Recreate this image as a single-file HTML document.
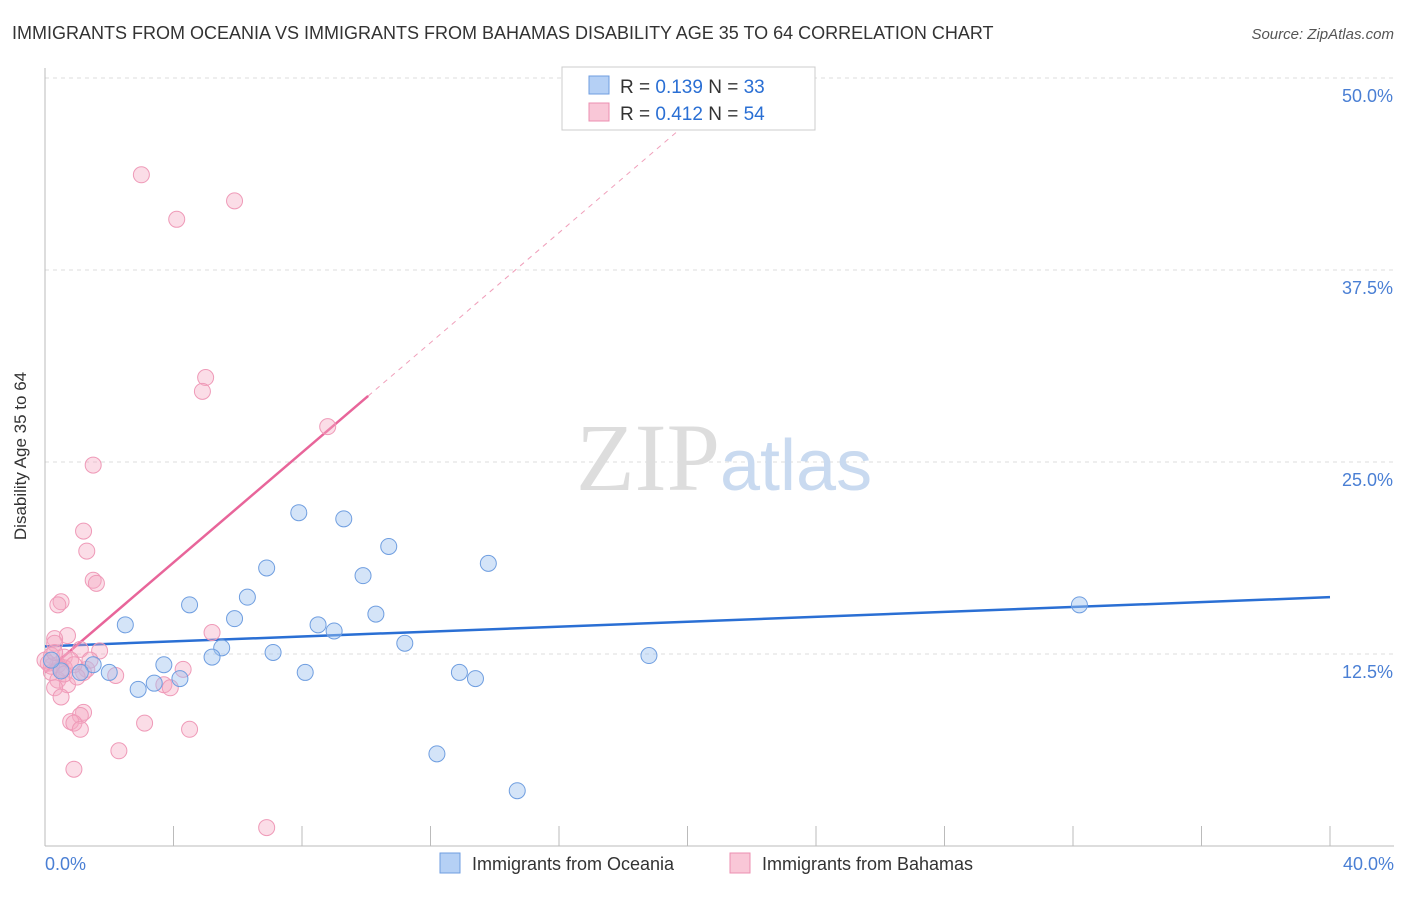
<!DOCTYPE html>
<html><head><meta charset="utf-8"><style>
body{margin:0;background:#fff;font-family:"Liberation Sans",sans-serif}
</style></head><body>
<svg width="1406" height="892" xmlns="http://www.w3.org/2000/svg" font-family="Liberation Sans, sans-serif">
<text x="12" y="39" font-size="18" fill="#333">IMMIGRANTS FROM OCEANIA VS IMMIGRANTS FROM BAHAMAS DISABILITY AGE 35 TO 64 CORRELATION CHART</text>
<text x="1394" y="39" font-size="15" fill="#555" font-style="italic" text-anchor="end">Source: ZipAtlas.com</text>
<g id="grid"></g>
<line x1="45" y1="68" x2="45" y2="846" stroke="#bbb"/>
<line x1="45" y1="846" x2="1394" y2="846" stroke="#bbb"/>
<text x="720" y="490" font-size="96" fill="#ddd" text-anchor="end" font-family="Liberation Serif, serif">ZIP</text>
<text x="720" y="490" font-size="72" fill="#c9daf0">atlas</text>
<text x="26" y="456" font-size="17" fill="#333" text-anchor="middle" transform="rotate(-90 26 456)">Disability Age 35 to 64</text>
<text x="45" y="870" font-size="18" fill="#4a7fd4">0.0%</text>
<text x="1394" y="870" font-size="18" fill="#4a7fd4" text-anchor="end">40.0%</text>
<g id="lines"></g>
<g id="pts"></g>
<g>
<rect x="562" y="67" width="253" height="63" fill="#fff" stroke="#ccc"/>
<rect x="589" y="76" width="20" height="18" fill="#b5d0f5" stroke="#6f9ee0"/>
<text x="620" y="93" font-size="19" fill="#333">R = <tspan fill="#2a6fd4">0.139</tspan>   N = <tspan fill="#2a6fd4">33</tspan></text>
<rect x="589" y="103" width="20" height="18" fill="#f9c7d7" stroke="#ec8fb0"/>
<text x="620" y="120" font-size="19" fill="#333">R = <tspan fill="#2a6fd4">0.412</tspan>   N = <tspan fill="#2a6fd4">54</tspan></text>
</g>
<g>
<rect x="440" y="853" width="20" height="20" fill="#b5d0f5" stroke="#6f9ee0"/>
<text x="472" y="870" font-size="18" fill="#333">Immigrants from Oceania</text>
<rect x="730" y="853" width="20" height="20" fill="#f9c7d7" stroke="#ec8fb0"/>
<text x="762" y="870" font-size="18" fill="#333">Immigrants from Bahamas</text>
</g>
</svg>
<script>
const yTicks=[12.5,25,37.5,50];
const yTickLabels=["12.5%","25.0%","37.5%","50.0%"];
const oceaniaX=[7.9,9.3,10.7,13.8,6.9,9.9,6.3,4.5,10.3,5.9,2.5,8.5,9.0,11.2,5.5,7.1,5.2,18.8,3.7,1.5,2.0,8.1,12.9,13.4,4.2,3.4,2.9,12.2,14.7,32.2,0.5,1.1,0.2];
const oceaniaY=[21.7,21.3,19.5,18.4,18.1,17.6,16.2,15.7,15.1,14.8,14.4,14.4,14.0,13.2,12.9,12.6,12.3,12.4,11.8,11.8,11.3,11.3,11.3,10.9,10.9,10.6,10.2,6.0,3.6,15.7,11.4,11.3,12.1];
const bahamasX=[3.0,4.1,5.9,5.0,4.9,8.8,1.5,1.2,1.3,1.5,1.6,0.5,0.4,5.2,0.7,0.3,0.3,1.7,1.1,0.2,0.6,0.8,0.1,0.4,0.6,1.3,1.2,2.2,4.3,3.7,3.9,0.2,0.4,0.7,0.3,0.5,1.2,1.1,0.8,0.9,1.1,3.1,4.5,2.3,0.9,6.9,0.9,1.4,0.5,0.2,0.6,1.0,0.0,0.3];
const bahamasY=[43.7,40.8,42.0,30.5,29.6,27.3,24.8,20.5,19.2,17.3,17.1,15.9,15.7,13.9,13.7,13.5,13.2,12.7,12.8,12.4,12.3,12.1,11.9,11.8,11.6,11.5,11.3,11.1,11.5,10.5,10.3,11.3,10.8,10.5,10.3,9.7,8.7,8.5,8.1,8.0,7.6,8.0,7.6,6.2,5.0,1.2,11.8,12.1,11.5,11.7,11.2,11.0,12.1,12.6];
const blueLine=[0,13.0,40,16.2];
const pinkLine=[0,11.3,10.06,29.3,21.6];
const NS="http://www.w3.org/2000/svg";
const xs=v=>45+v*32.125, ys=v=>846-v*15.36;
function mk(t,a,p){const e=document.createElementNS(NS,t);for(const k in a)e.setAttribute(k,a[k]);document.getElementById(p).appendChild(e);return e;}
yTicks.forEach((v,i)=>{
 const l=mk('line',{x1:45,x2:1394,y1:ys(v),y2:ys(v),stroke:'#ddd','stroke-dasharray':'4,4'},'grid');
 
 
 const t=mk('text',{x:1393,y:ys(v)+24,'font-size':18,fill:'#4a7fd4','text-anchor':'end'},'grid');
 t.textContent=yTickLabels[i];
 
 
});
for(let i=1;i<=10;i++){const t=mk('line',{x1:45+i*128.5,x2:45+i*128.5,y1:826,y2:846,stroke:'#bbb'},'grid');
 
 }
const bl=mk('line',{x1:xs(blueLine[0]),y1:ys(blueLine[1]),x2:xs(blueLine[2]),y2:ys(blueLine[3]),stroke:'#2a6fd4','stroke-width':2.5},'lines');


const sl=(pinkLine[3]-pinkLine[1])/pinkLine[2];
const pd=mk('line',{x1:xs(pinkLine[2]),y1:ys(pinkLine[3]),x2:xs(pinkLine[4]),y2:ys(pinkLine[1]+sl*pinkLine[4]),stroke:'#f0a0bb','stroke-width':1,'stroke-dasharray':'5,5'},'lines');


const pl=mk('line',{x1:xs(pinkLine[0]),y1:ys(pinkLine[1]),x2:xs(pinkLine[2]),y2:ys(pinkLine[3]),stroke:'#e8659a','stroke-width':2.5},'lines');


bahamasX.forEach((x,i)=>{const c=mk('circle',{cx:xs(x),cy:ys(bahamasY[i]),r:8,fill:'rgba(245,170,195,0.4)',stroke:'#ef9ab8','stroke-width':1},'pts');
 
 });
oceaniaX.forEach((x,i)=>{const c=mk('circle',{cx:xs(x),cy:ys(oceaniaY[i]),r:8,fill:'rgba(160,195,240,0.45)',stroke:'#6f9ee0','stroke-width':1},'pts');
 
 });
</script>
</body></html>
